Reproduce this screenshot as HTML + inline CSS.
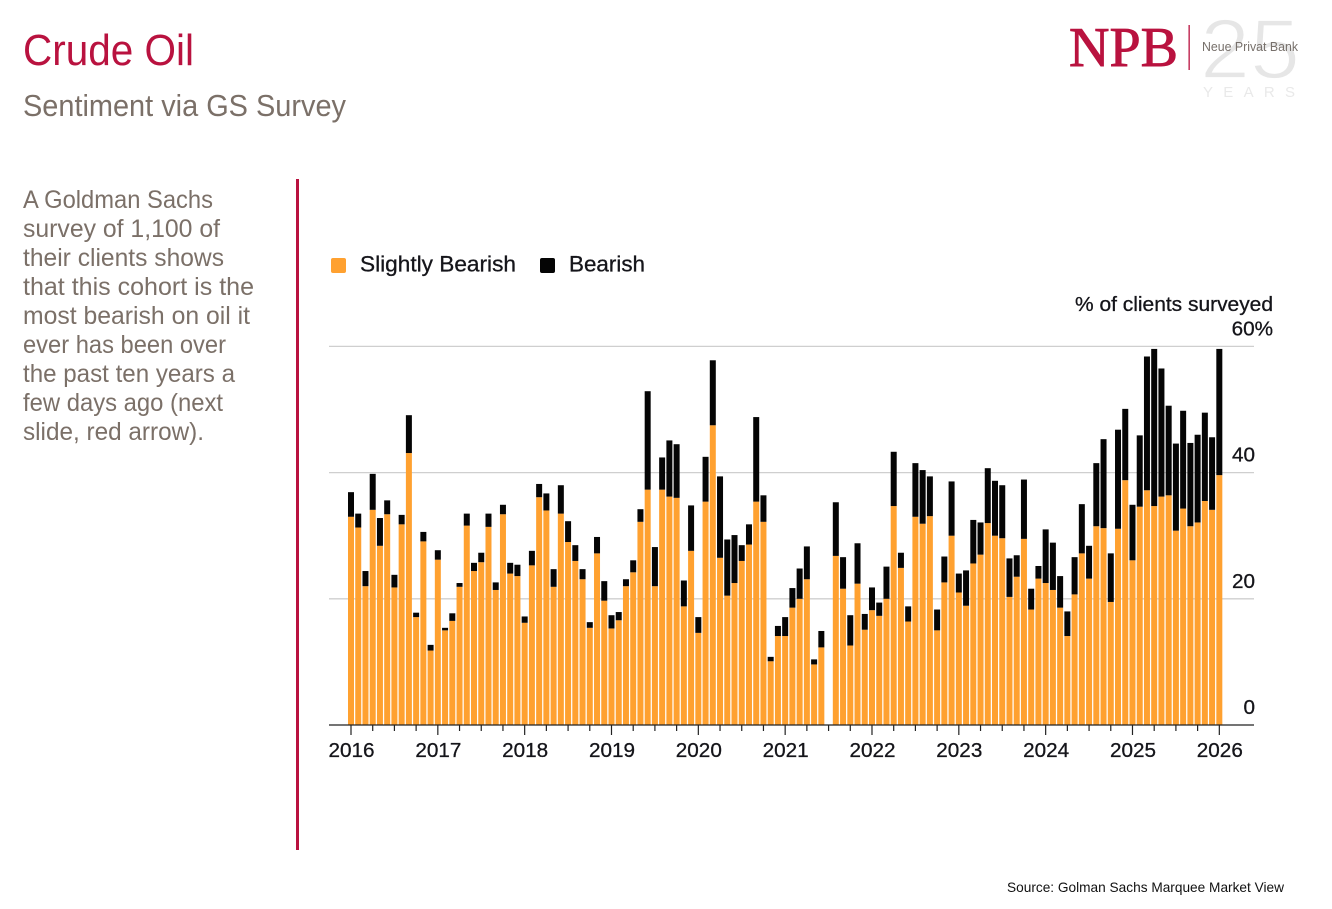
<!DOCTYPE html>
<html lang="en">
<head>
<meta charset="utf-8">
<title>Crude Oil - Sentiment via GS Survey</title>
<style>
html,body{margin:0;padding:0;background:#fff;width:1332px;height:909px;overflow:hidden}
svg{display:block}
text{font-family:"Liberation Sans",sans-serif}
.body-line{font-size:25px;fill:#7b7068}
.axis{font-size:20.7px;fill:#15151a;stroke:#15151a;stroke-width:.3}
</style>
</head>
<body>
<svg id="slide" width="1332" height="909" viewBox="0 0 1332 909" xmlns="http://www.w3.org/2000/svg">
  <rect width="1332" height="909" fill="#fff"/>
  <text x="23" y="65" font-size="44" fill="#b9123f" textLength="171" lengthAdjust="spacingAndGlyphs">Crude Oil</text>
  <text x="23" y="116" font-size="31" fill="#7b7068" textLength="323" lengthAdjust="spacingAndGlyphs">Sentiment via GS Survey</text>

  <g>
    <text class="body-line" x="23" y="208" textLength="190" lengthAdjust="spacingAndGlyphs">A Goldman Sachs</text>
    <text class="body-line" x="23" y="237" textLength="197" lengthAdjust="spacingAndGlyphs">survey of 1,100 of</text>
    <text class="body-line" x="23" y="266" textLength="201" lengthAdjust="spacingAndGlyphs">their clients shows</text>
    <text class="body-line" x="23" y="295" textLength="231" lengthAdjust="spacingAndGlyphs">that this cohort is the</text>
    <text class="body-line" x="23" y="324" textLength="227" lengthAdjust="spacingAndGlyphs">most bearish on oil it</text>
    <text class="body-line" x="23" y="353" textLength="203" lengthAdjust="spacingAndGlyphs">ever has been over</text>
    <text class="body-line" x="23" y="382" textLength="212" lengthAdjust="spacingAndGlyphs">the past ten years a</text>
    <text class="body-line" x="23" y="411" textLength="200" lengthAdjust="spacingAndGlyphs">few days ago (next</text>
    <text class="body-line" x="23" y="440" textLength="181" lengthAdjust="spacingAndGlyphs">slide, red arrow).</text>
  </g>

  <rect x="296" y="179" width="3" height="671" fill="#b9123f"/>

  <g>
    <text x="1200" y="78" font-size="84" fill="#e6e6e6" stroke="#fff" stroke-width="1.8" textLength="100" lengthAdjust="spacingAndGlyphs">25</text>
    <text x="1203" y="97" font-size="15" fill="#e9e9e9" textLength="92">YEARS</text>
    <text x="1069" y="66" font-size="56" fill="#b9123f" stroke="#b9123f" stroke-width=".9" style="font-family:'Liberation Serif',serif">NPB</text>
    <rect x="1188.5" y="25" width="1.3" height="45" fill="#b9123f"/>
    <text x="1202" y="51" font-size="13" fill="#77706b" textLength="96" lengthAdjust="spacingAndGlyphs">Neue Privat Bank</text>
  </g>

  <g>
    <rect x="331" y="258" width="15" height="15" rx="2" fill="#ffa130"/>
    <text x="360" y="271.5" font-size="22.5" fill="#15151a" stroke="#15151a" stroke-width=".3" textLength="156" lengthAdjust="spacingAndGlyphs">Slightly Bearish</text>
    <rect x="540" y="258" width="15" height="15" rx="2" fill="#050505"/>
    <text x="569" y="271.5" font-size="22.5" fill="#15151a" stroke="#15151a" stroke-width=".3" textLength="76" lengthAdjust="spacingAndGlyphs">Bearish</text>
  </g>

  <text x="1075" y="311" font-size="20.7" fill="#15151a" stroke="#15151a" stroke-width=".3" textLength="198" lengthAdjust="spacingAndGlyphs">% of clients surveyed</text>

  <g id="chart"></g>

  <text x="1007" y="892" font-size="14" fill="#111" textLength="277" lengthAdjust="spacingAndGlyphs">Source: Golman Sachs Marquee Market View</text>
</svg>

<script>
const categories = [
  "2016-01","2016-02","2016-03","2016-04","2016-05","2016-06","2016-07","2016-08","2016-09","2016-10","2016-11","2016-12",
  "2017-01","2017-02","2017-03","2017-04","2017-05","2017-06","2017-07","2017-08","2017-09","2017-10","2017-11","2017-12",
  "2018-01","2018-02","2018-03","2018-04","2018-05","2018-06","2018-07","2018-08","2018-09","2018-10","2018-11","2018-12",
  "2019-01","2019-02","2019-03","2019-04","2019-05","2019-06","2019-07","2019-08","2019-09","2019-10","2019-11","2019-12",
  "2020-01","2020-02","2020-03","2020-04","2020-05","2020-06","2020-07","2020-08","2020-09","2020-10","2020-11","2020-12",
  "2021-01","2021-02","2021-03","2021-04","2021-05","2021-06","2021-07","2021-08","2021-09","2021-10","2021-11","2021-12",
  "2022-01","2022-02","2022-03","2022-04","2022-05","2022-06","2022-07","2022-08","2022-09","2022-10","2022-11","2022-12",
  "2023-01","2023-02","2023-03","2023-04","2023-05","2023-06","2023-07","2023-08","2023-09","2023-10","2023-11","2023-12",
  "2024-01","2024-02","2024-03","2024-04","2024-05","2024-06","2024-07","2024-08","2024-09","2024-10","2024-11","2024-12",
  "2025-01","2025-02","2025-03","2025-04","2025-05","2025-06","2025-07","2025-08","2025-09","2025-10","2025-11","2025-12",
  "2026-01"
];
const slightlyBearish = [
  33.0,31.3,22.0,34.1,28.4,33.4,21.8,31.8,43.1,17.1,29.1,11.8,
  26.2,15.0,16.5,21.9,31.6,24.4,25.8,31.4,21.4,33.4,24.0,23.6,
  16.2,25.3,36.1,34.0,21.9,33.5,29.0,26.0,23.1,15.4,27.2,19.7,
  15.3,16.6,22.0,24.2,32.2,37.3,22.0,37.3,36.2,36.0,18.8,27.6,
  14.6,35.4,47.5,26.5,20.5,22.5,26.0,28.6,35.4,32.2,10.1,14.1,
  14.1,18.6,20.0,23.1,9.6,12.3,0,26.8,21.6,12.6,22.4,15.1,
  18.2,17.3,20.0,34.7,24.9,16.4,33.0,31.9,33.1,15.0,22.6,30.0,
  21.0,18.9,25.6,27.0,32.0,30.0,29.6,20.3,23.5,29.5,18.3,23.2,
  22.5,21.4,18.6,14.1,20.7,27.2,23.2,31.5,31.2,19.5,31.1,38.8,
  26.1,34.6,37.2,34.7,36.2,36.4,30.8,34.3,31.5,32.1,35.5,34.1,
  39.6
];
const bearish = [
  3.9,2.2,2.4,5.7,4.4,2.2,2.0,1.5,6.0,0.7,1.5,0.9,
  1.5,0.4,1.2,0.6,1.9,1.3,1.5,2.1,1.2,1.5,1.7,1.8,
  1.0,2.3,2.1,2.7,2.8,4.5,3.3,2.5,1.6,0.9,2.6,3.1,
  2.1,1.3,1.1,1.9,2.0,15.6,6.2,5.1,8.9,8.5,4.1,7.2,
  2.5,7.1,10.3,12.9,8.9,7.6,2.5,3.2,13.4,4.2,0.7,1.6,
  3.0,3.1,4.8,5.2,0.8,2.6,0,8.5,5.0,4.8,6.4,2.5,
  3.6,2.1,5.1,8.6,2.4,2.4,8.5,8.5,6.3,3.3,4.1,8.6,
  3.0,5.6,6.9,5.1,8.7,8.7,8.4,6.1,3.4,9.4,3.3,2.0,
  8.5,7.5,5.0,3.9,5.9,7.8,5.2,10.0,14.1,7.7,15.7,11.3,
  8.8,11.3,21.2,24.9,20.3,14.2,13.8,15.5,13.2,13.9,14.0,11.5,
  20.0
];
const yTicks = [0, 20, 40, 60];
const yTickLabels = ["0", "20", "40", "60%"];
const yearLabels = ["2016","2017","2018","2019","2020","2021","2022","2023","2024","2025","2026"];

const NS = "http://www.w3.org/2000/svg";
const chart = document.getElementById("chart");
const plotLeft = 329, plotRight = 1254, barWidth = 6;

function xScale(i) { return 351 + i * 7.236; }
function yScale(v) { return 725 - v * 6.31; }

function make(tag, attrs, parent) {
  const el = document.createElementNS(NS, tag);
  for (const k in attrs) el.setAttribute(k, attrs[k]);
  parent.appendChild(el);
  return el;
}

// gridlines and y-axis labels
yTicks.forEach(function (t, idx) {
  if (t !== 0) {
    const grid = make("line", {x1: plotLeft, x2: plotRight, y1: yScale(t), y2: yScale(t), stroke: "#cfcfcf", "stroke-width": 1.3}, chart);
    
    
  }
  const isTop = idx === yTicks.length - 1;
  const label = make("text", {x: isTop ? 1273 : 1255, y: yScale(t) - 11, "text-anchor": "end", class: "axis"}, chart);
  
  
  label.textContent = yTickLabels[idx];
});

// stacked bars
categories.forEach(function (cat, i) {
  const x = xScale(i) - barWidth / 2;
  const s = slightlyBearish[i], b = bearish[i];
  const lower = make("rect", {x: x, y: yScale(s), width: barWidth, height: yScale(0) - yScale(s), fill: "#ffa130"}, chart);
  
  
  const upper = make("rect", {x: x, y: yScale(s + b), width: barWidth, height: yScale(s) - yScale(s + b), fill: "#050505"}, chart);
  
  
});

// baseline
const baseline = make("line", {x1: plotLeft, x2: plotRight, y1: yScale(0), y2: yScale(0), stroke: "#222", "stroke-width": 1.3}, chart);



// quarterly ticks, longer at each January
categories.forEach(function (cat, i) {
  if (i % 3 !== 0) return;
  const major = i % 12 === 0;
  const tick = make("line", {x1: xScale(i), x2: xScale(i), y1: yScale(0), y2: yScale(0) + (major ? 10 : 6), stroke: "#222", "stroke-width": 1.2}, chart);
  
  
});

// year labels
yearLabels.forEach(function (yr) {
  const i = categories.indexOf(yr + "-01");
  const label = make("text", {x: xScale(i) + 0.5, y: 757, "text-anchor": "middle", class: "axis"}, chart);
  
  
  label.textContent = yr;
});
</script>
</body>
</html>
